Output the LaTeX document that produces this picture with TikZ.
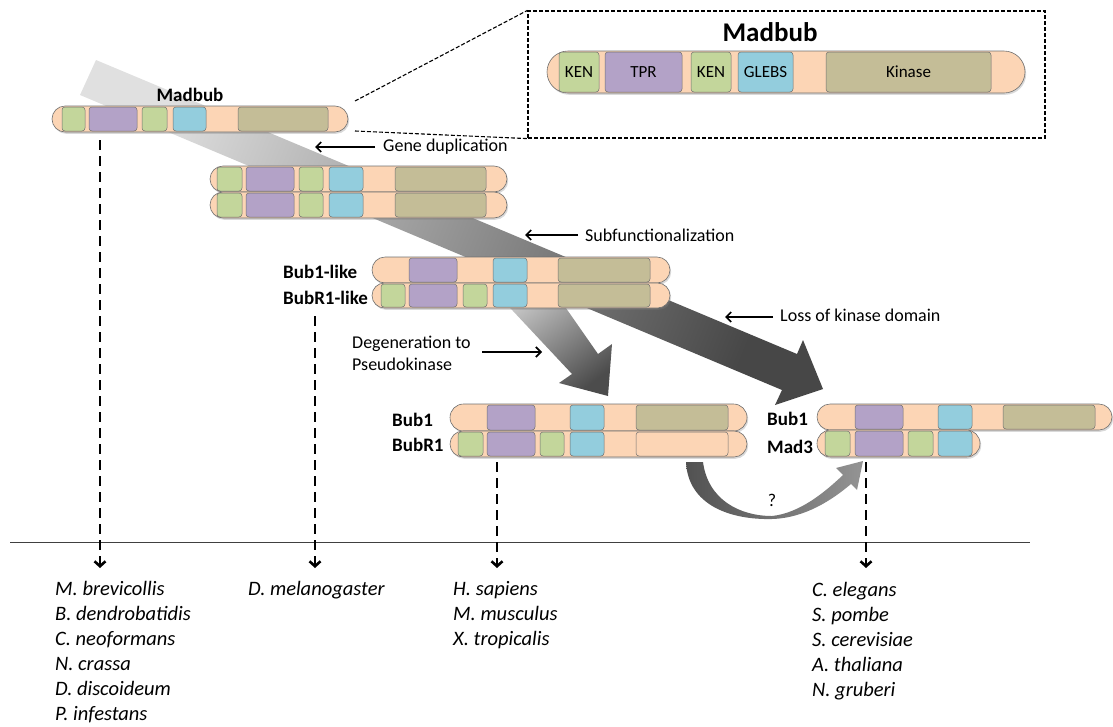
\documentclass[tikz,border=0pt]{standalone}
\usepackage{fontspec}
\setmainfont{Carlito}
\usetikzlibrary{arrows.meta,positioning,shapes.misc,shadows}

\definecolor{peach}{HTML}{FCD5B5}
\definecolor{kengreen}{HTML}{C3D69B}
\definecolor{tprpurple}{HTML}{B3A2C7}
\definecolor{glebsblue}{HTML}{93CDDD}
\definecolor{kinasetan}{HTML}{C4BD97}
\definecolor{edgegray}{HTML}{707070}

% colour, left x, right x, centre y, height, text
\newcommand{\domainbox}[6]{\node[dombox, fill=#1, minimum width={(#3-#2)*1pt}, minimum height={(#5)*1pt}] at ({(#2+#3)/2},#4) {#6};}

\begin{document}
\begin{tikzpicture}[x=1pt,y=-1pt,
  protbar/.style={rounded rectangle, draw=edgegray, line width=0.6pt, fill=peach, inner sep=0pt,
    drop shadow={shadow xshift=1.2pt, shadow yshift=-1.8pt, opacity=0.3}},
  dombox/.style={rectangle, rounded corners=3pt, draw=edgegray, line width=0.5pt, inner sep=0pt,
    font=\fontsize{17}{17}\selectfont},
  insetbox/.style={draw, dash pattern=on 4pt off 2pt, line width=1.2pt, inner sep=0pt},
  zoomline/.style={dash pattern=on 4pt off 2pt, line width=1.1pt},
  lineage/.style={dash pattern=on 10pt off 6pt, line width=2.6pt, -{Straight Barb[length=5pt,width=11pt]}},
  pointer/.style={line width=1.7pt, -{Straight Barb[length=5pt,width=10pt]}},
  note/.style={font=\fontsize{18}{22}\selectfont, inner sep=0pt},
  tag/.style={font=\fontsize{19}{22}\selectfont\bfseries, inner sep=0pt},
  species/.style={anchor=base west, inner sep=0pt, font=\fontsize{20.5}{24}\selectfont\itshape}]

\useasboundingbox (0,0) rectangle (1113,726);

% evolutionary trajectory
\shade[top color=black!12, bottom color=black!72, shading angle=68]
  (96,60) -- (797,354) -- (803,340) -- (823,389) -- (775,405) -- (782,390) -- (80,95) -- cycle;
\shade[top color=black!18, bottom color=black!70, shading angle=37]
  (498,295) -- (572,374) -- (559,383) -- (608,396) -- (612,344) -- (598,354) -- (545,278) -- cycle;
\shade[left color=black!68, right color=black!42]
  (686,462) .. controls (688,505) and (730,520) .. (772,519) .. controls (805,518) and (832,500) .. (851,484)
  -- (857,490) -- (863,461) -- (836,468) -- (843,475)
  .. controls (825,492) and (800,513) .. (772,516) .. controls (740,516) and (708,500) .. (703,462) -- cycle;
\node[note] (q) at (772,500) {?};

% ancestral protein and close-up
\node[insetbox, minimum width=517pt, minimum height=127pt] (inset) at (786.5,74.5) {};
\node[font=\fontsize{27}{30}\selectfont\bfseries, inner sep=0pt] (title) at (770,32) {Madbub};
\node[protbar, minimum width=478pt, minimum height=42pt] (zoombar) at (786,72) {};
\domainbox{kengreen}{559}{599}{72}{40}{KEN}
\domainbox{tprpurple}{605}{682}{72}{40}{TPR}
\domainbox{kengreen}{691}{731}{72}{40}{KEN}
\domainbox{glebsblue}{738}{793}{72}{40}{GLEBS}
\domainbox{kinasetan}{826}{991}{72}{40}{Kinase}

\node[protbar, minimum width=296pt, minimum height=26pt] (madbub) at (200,119) {};
\domainbox{kengreen}{62}{85}{119}{24}{}
\domainbox{tprpurple}{89}{137}{119}{24}{}
\domainbox{kengreen}{142}{167}{119}{24}{}
\domainbox{glebsblue}{173}{206}{119}{24}{}
\domainbox{kinasetan}{238}{328}{119}{24}{}
\node[tag] (madbub-lbl) at (190,95) {Madbub};

\coordinate (zoomtop) at (355,101);
\coordinate (zoombot) at (355,131);
\draw[zoomline] (zoomtop) -- (inset.north west);
\draw[zoomline] (zoombot) -- (inset.south west);

% duplicated copies
\foreach \yc/\nm in {179/dupa, 205/dupb}{
  \node[protbar, minimum width=297pt, minimum height=26pt] (\nm) at (358.5,\yc) {};
  \domainbox{kengreen}{217}{242}{\yc}{24}{}
  \domainbox{tprpurple}{246}{294}{\yc}{24}{}
  \domainbox{kengreen}{299}{323}{\yc}{24}{}
  \domainbox{glebsblue}{329}{363}{\yc}{24}{}
  \domainbox{kinasetan}{395}{486}{\yc}{24}{}
}

% Bub1-like / BubR1-like
\node[protbar, minimum width=298pt, minimum height=26pt] (bublike) at (521,270) {};
\domainbox{tprpurple}{409}{457}{270}{24}{}
\domainbox{glebsblue}{493}{527}{270}{24}{}
\domainbox{kinasetan}{558}{650}{270}{24}{}
\node[protbar, minimum width=298pt, minimum height=25pt] (bubrlike) at (521,295.5) {};
\domainbox{kengreen}{381}{405}{295.5}{23}{}
\domainbox{tprpurple}{409}{457}{295.5}{23}{}
\domainbox{kengreen}{463}{487}{295.5}{23}{}
\domainbox{glebsblue}{493}{527}{295.5}{23}{}
\domainbox{kinasetan}{558}{650}{295.5}{23}{}
\node[tag, anchor=west] (bublike-lbl) at (283,272) {Bub1-like};
\node[tag, anchor=west] (bubrlike-lbl) at (283,298) {BubR1-like};

% Bub1 / BubR1
\node[protbar, minimum width=297pt, minimum height=27pt] (bubA) at (598.5,417.5) {};
\domainbox{tprpurple}{487}{535}{417.5}{25}{}
\domainbox{glebsblue}{570}{604}{417.5}{25}{}
\domainbox{kinasetan}{636}{728}{417.5}{25}{}
\node[protbar, minimum width=297pt, minimum height=26pt] (bubr) at (598.5,444) {};
\domainbox{kengreen}{458}{483}{444}{24}{}
\domainbox{tprpurple}{487}{535}{444}{24}{}
\domainbox{kengreen}{540}{564}{444}{24}{}
\domainbox{glebsblue}{570}{604}{444}{24}{}
\domainbox{peach}{636}{728}{444}{24}{}
\node[tag, anchor=west] (bubA-lbl) at (392,420) {Bub1};
\node[tag, anchor=west] (bubr-lbl) at (392,445) {BubR1};

% Bub1 / Mad3
\node[protbar, minimum width=295pt, minimum height=26pt] (bubB) at (964.5,417) {};
\domainbox{tprpurple}{855}{903}{417}{24}{}
\domainbox{glebsblue}{938}{972}{417}{24}{}
\domainbox{kinasetan}{1003}{1095}{417}{24}{}
\node[protbar, minimum width=163pt, minimum height=27pt] (mad) at (898.5,443.5) {};
\domainbox{kengreen}{825}{850}{443.5}{25}{}
\domainbox{tprpurple}{855}{903}{443.5}{25}{}
\domainbox{kengreen}{908}{933}{443.5}{25}{}
\domainbox{glebsblue}{938}{972}{443.5}{25}{}
\node[tag, anchor=west] (bubB-lbl) at (767,419) {Bub1};
\node[tag, anchor=west] (mad-lbl) at (767,447) {Mad3};

% events
\node[note, anchor=west] (dup) at (383,147) {Gene duplication};
\coordinate (dup-tip) at (315,147);
\draw[pointer] (dup.west) ++(-8,0) -- (dup-tip);
\node[note, anchor=west] (sub) at (585,235) {Subfunctionalization};
\coordinate (sub-tip) at (525,235);
\draw[pointer] (sub.west) ++(-7,0) -- (sub-tip);
\node[note, anchor=west] (loss) at (780,315) {Loss of kinase domain};
\coordinate (loss-tip) at (725,317);
\draw[pointer] (loss.west) ++(-7,2) -- (loss-tip);
\node[note, anchor=west, align=left] (deg) at (352,353) {Degeneration to\\Pseudokinase};
\coordinate (deg-tail) at (482,352);
\coordinate (deg-tip) at (542,352);
\draw[pointer] (deg-tail) -- (deg-tip);

% species
\draw[line width=0.8pt, black!75] (10,542) -- (1030,542);
\foreach \sp [count=\i from 0] in {M. brevicollis, B. dendrobatidis, C. neoformans, N. crassa, D. discoideum, P. infestans}
  \node[species] (fungi\i) at (55,{595+25*\i}) {\sp};
\node[species] (fly0) at (248,595) {D. melanogaster};
\foreach \sp [count=\i from 0] in {H. sapiens, M. musculus, X. tropicalis}
  \node[species] (verte\i) at (453,{595+25*\i}) {\sp};
\foreach \sp [count=\i from 0] in {C. elegans, S. pombe, S. cerevisiae, A. thaliana, N. gruberi}
  \node[species] (yeast\i) at (812,{596+25*\i}) {\sp};

\coordinate (fromA) at (100,140);
\coordinate (fromB) at (315,316);
\coordinate (fromC) at (497,462);
\coordinate (fromD) at (866,462);
\draw[lineage] (fromA) -- (fromA |- 0,568);
\draw[lineage] (fromB) -- (fromB |- 0,568);
\draw[lineage] (fromC) -- (fromC |- 0,568);
\draw[lineage] (fromD) -- (fromD |- 0,568);

\end{tikzpicture}
\end{document}
